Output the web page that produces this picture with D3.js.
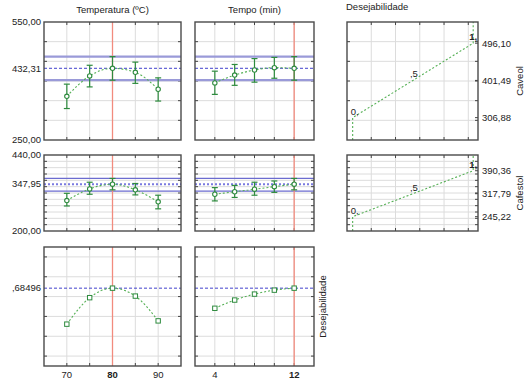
<!DOCTYPE html>
<html>
<head>
<meta charset="utf-8">
<script src="https://cdn.jsdelivr.net/npm/d3@7.9.0/dist/d3.min.js"></script>
<style>
  body { margin: 0; background: #fff; }
  svg text { font-family: "Liberation Sans", Arial, sans-serif; font-size: 9.5px; fill: #222; }
</style>
</head>
<body>
<svg id="chart" width="526" height="387"></svg>
<script>
// factor levels
const tempLevels = [70, 75, 80, 85, 90];
const tempoLevels = [4, 6, 8, 10, 12];
const tempLabels = [70, 80, 90];
const tempoLabels = [4, 12];
const currentTemp = 80;
const currentTempo = 12;

// Caveol
const caveolTemp = [361, 413, 432.31, 422, 379];
const caveolTempLo = [330, 385, 402, 394, 349];
const caveolTempHi = [392, 440, 462, 448, 408];
const caveolTempo = [395, 415, 428, 434, 432.31];
const caveolTempoLo = [366, 389, 397, 407, 402];
const caveolTempoHi = [425, 442, 457, 460, 462];
const caveolBand = [402, 462];
const caveolPred = 432.31;
const caveolDomain = [250, 550];

// Cafestol
const cafestolTemp = [296, 333, 347.95, 330, 292];
const cafestolTempLo = [279, 316, 330, 314, 270];
const cafestolTempHi = [319, 354, 366, 350, 313];
const cafestolTempo = [316, 324, 332, 340, 347.95];
const cafestolTempoLo = [295, 306, 313, 322, 330];
const cafestolTempoHi = [337, 344, 354, 358, 366];
const cafestolBand = [326, 366];
const cafestolPred = 347.95;
const cafestolDomain = [200, 440];

// overall desirability
const desTemp = [0.322, 0.589, 0.685, 0.605, 0.355];
const desTempo = [0.482, 0.565, 0.625, 0.665, 0.685];
const desPred = 0.68496;
const desDomain = [-0.1, 1.1];

// desirability functions
const desLevels = [0, 0.5, 1];
const desLevelLabels = ["0,", ",5", "1,"];
const caveolDesValues = [306.88, 401.49, 496.10];
const cafestolDesValues = [245.22, 317.79, 390.36];

const fmt = v => v.toFixed(2).replace('.', ',');

const svg = d3.select('#chart');

const cols = [[44, 181], [195, 314], [347, 478]];
const rows = [[22, 140], [155, 231], [247, 366]];

const xTemp = d3.scaleLinear().domain([65, 95]).range(cols[0]);
const xTempo = d3.scaleLinear().domain([2, 14]).range(cols[1]);
const xDes = d3.scaleLinear().domain([-0.047, 1.04]).range(cols[2]);

const yScales = [
  d3.scaleLinear().domain(caveolDomain).range([rows[0][1], rows[0][0]]),
  d3.scaleLinear().domain(cafestolDomain).range([rows[1][1], rows[1][0]]),
  d3.scaleLinear().domain(desDomain).range([rows[2][1], rows[2][0]]),
];
const yGrids = [
  d3.range(300, 550, 50),
  d3.range(220, 440, 20),
  d3.range(0, 1.01, 0.2),
];

function frame(x0, x1, y0, y1, xs, ys) {
  const g = svg.append('g');
  xs.forEach(x => {
    g.append('line').attr('x1', x).attr('x2', x).attr('y1', y0).attr('y2', y1)
      .attr('stroke', '#dcdcdc').attr('stroke-width', 1);
    [y0, y1].forEach(y => g.append('line').attr('x1', x).attr('x2', x)
      .attr('y1', y).attr('y2', y === y0 ? y + 3 : y - 3).attr('stroke', '#444'));
  });
  ys.forEach(y => {
    g.append('line').attr('x1', x0).attr('x2', x1).attr('y1', y).attr('y2', y)
      .attr('stroke', '#dcdcdc').attr('stroke-width', 1);
    [x0, x1].forEach(x => g.append('line').attr('y1', y).attr('y2', y)
      .attr('x1', x).attr('x2', x === x0 ? x + 3 : x - 3).attr('stroke', '#444'));
  });
  return g;
}

function border(x0, x1, y0, y1) {
  svg.append('rect').attr('x', x0).attr('y', y0)
    .attr('width', x1 - x0).attr('height', y1 - y0)
    .attr('fill', 'none').attr('stroke', '#4a4a4a').attr('stroke-width', 1.4);
}

const factorPanels = [
  { col: 0, x: xTemp, levels: tempLevels, current: currentTemp },
  { col: 1, x: xTempo, levels: tempoLevels, current: currentTempo },
];

const rowData = [
  { pred: caveolPred, band: caveolBand, series: [[caveolTemp, caveolTempLo, caveolTempHi], [caveolTempo, caveolTempoLo, caveolTempoHi]], thick: true },
  { pred: cafestolPred, band: cafestolBand, series: [[cafestolTemp, cafestolTempLo, cafestolTempHi], [cafestolTempo, cafestolTempoLo, cafestolTempoHi]], thick: false },
  { pred: desPred, band: null, series: [[desTemp], [desTempo]] },
];

rowData.forEach((rd, ri) => {
  const y = yScales[ri];
  const [y0, y1] = rows[ri];
  factorPanels.forEach((fp, ci) => {
    const [x0, x1] = cols[fp.col];
    const x = fp.x;
    const g = frame(x0, x1, y0, y1, fp.levels.map(x), yGrids[ri].map(y));
    // confidence band
    if (rd.band) {
      rd.band.forEach(v => g.append('line').attr('x1', x0).attr('x2', x1)
        .attr('y1', y(v)).attr('y2', y(v))
        .attr('stroke', rd.thick ? '#9a9ad8' : '#6c6cd0')
        .attr('stroke-width', rd.thick ? 2.2 : 1.3));
    }
    // predicted value
    g.append('line').attr('x1', x0).attr('x2', x1)
      .attr('y1', y(rd.pred)).attr('y2', y(rd.pred))
      .attr('stroke', rd.thick === false ? '#7a7ae0' : '#4040cc')
      .attr('stroke-width', rd.thick === false ? 2 : 1)
      .attr('stroke-dasharray', rd.thick === false ? '2,2' : '3,2');
    // current level
    g.append('line').attr('x1', x(fp.current)).attr('x2', x(fp.current))
      .attr('y1', y0).attr('y2', y1).attr('stroke', '#f28b7e').attr('stroke-width', 1.3);

    const [vals, lo, hi] = rd.series[ci];
    const pts = fp.levels.map((lv, i) => ({ lv, v: vals[i], lo: lo ? lo[i] : null, hi: hi ? hi[i] : null }));
    g.append('path').datum(pts)
      .attr('d', d3.line().x(d => x(d.lv)).y(d => y(d.v)).curve(d3.curveMonotoneX))
      .attr('fill', 'none').attr('stroke', '#55b055').attr('stroke-width', 1.1)
      .attr('stroke-dasharray', '2,2');
    pts.forEach(d => {
      if (d.lo !== null) {
        g.append('line').attr('x1', x(d.lv)).attr('x2', x(d.lv))
          .attr('y1', y(d.lo)).attr('y2', y(d.hi)).attr('stroke', '#2e8b3e').attr('stroke-width', 1.2);
        [d.lo, d.hi].forEach(v => g.append('line')
          .attr('x1', x(d.lv) - 3).attr('x2', x(d.lv) + 3)
          .attr('y1', y(v)).attr('y2', y(v)).attr('stroke', '#2e8b3e').attr('stroke-width', 1.2));
        g.append('circle').attr('cx', x(d.lv)).attr('cy', y(d.v)).attr('r', 2.2)
          .attr('fill', '#fff').attr('stroke', '#2e8b3e').attr('stroke-width', 1.1);
      } else {
        g.append('rect').attr('x', x(d.lv) - 2.2).attr('y', y(d.v) - 2.2)
          .attr('width', 4.4).attr('height', 4.4)
          .attr('fill', '#fff').attr('stroke', '#2e8b3e').attr('stroke-width', 1);
      }
    });
    border(x0, x1, y0, y1);
  });

  // y labels on left column
  const yLabels = ri < 2 ? [...y.domain(), rd.pred] : [rd.pred];
  yLabels.forEach(v => svg.append('text')
    .attr('x', 41).attr('y', y(v)).attr('dy', '0.35em').attr('text-anchor', 'end')
    .text(ri < 2 ? fmt(v) : ',' + v.toFixed(5).split('.')[1]));
});

// x labels on bottom row
const yBottom = rows[2][1] + 12;
tempLabels.forEach(v => svg.append('text').attr('x', xTemp(v)).attr('y', yBottom)
  .attr('text-anchor', 'middle').attr('font-weight', v === currentTemp ? 'bold' : 'normal').text(v));
tempoLabels.forEach(v => svg.append('text').attr('x', xTempo(v)).attr('y', yBottom)
  .attr('text-anchor', 'middle').attr('font-weight', v === currentTempo ? 'bold' : 'normal').text(v));

// desirability function panels
const desPanels = [
  { ri: 0, values: caveolDesValues, name: 'Caveol' },
  { ri: 1, values: cafestolDesValues, name: 'Cafestol' },
];
const desGridX = d3.range(1, 6).map(i => cols[2][0] + i * (cols[2][1] - cols[2][0]) / 5.4);
desPanels.forEach(dp => {
  const y = yScales[dp.ri];
  const [y0, y1] = rows[dp.ri];
  const [x0, x1] = cols[2];
  const g = frame(x0, x1, y0, y1, desGridX, yGrids[dp.ri].map(y));
  const pts = desLevels.map((d, i) => [xDes(d), y(dp.values[i])]);
  const path = [[pts[0][0], y1], ...pts, [pts[2][0], y0]];
  g.append('path').attr('d', d3.line()(path)).attr('fill', 'none')
    .attr('stroke', '#55b055').attr('stroke-width', 1.1).attr('stroke-dasharray', '2,2');
  desLevels.forEach((d, i) => {
    g.append('text').attr('x', pts[i][0] + (i === 2 ? -4 : i === 0 ? -2 : -3)).attr('y', pts[i][1] - 3)
      .attr('font-weight', i === 2 ? 'bold' : 'normal')
      .text(desLevelLabels[i]);
    svg.append('line').attr('x1', x1).attr('x2', x1 - 3).attr('y1', pts[i][1]).attr('y2', pts[i][1]).attr('stroke', '#444');
    svg.append('text').attr('x', x1 + 4).attr('y', pts[i][1]).attr('dy', '0.35em')
      .attr('font-size', '9px').text(fmt(dp.values[i]));
  });
  border(x0, x1, y0, y1);
  svg.append('text').attr('transform', `translate(523,${(y0 + y1) / 2}) rotate(-90)`)
    .attr('text-anchor', 'middle').attr('font-size', '10px').text(dp.name);
});

// titles
svg.append('text').attr('x', (cols[0][0] + cols[0][1]) / 2).attr('y', 13)
  .attr('text-anchor', 'middle').text('Temperatura (ºC)');
svg.append('text').attr('x', (cols[1][0] + cols[1][1]) / 2).attr('y', 13)
  .attr('text-anchor', 'middle').text('Tempo (min)');
svg.append('text').attr('x', 346).attr('y', 10).text('Desejabilidade');
svg.append('text').attr('transform', `translate(326,${(rows[2][0] + rows[2][1]) / 2}) rotate(-90)`)
  .attr('text-anchor', 'middle').attr('font-size', '10px').text('Desejabilidade');
</script>
</body>
</html>
